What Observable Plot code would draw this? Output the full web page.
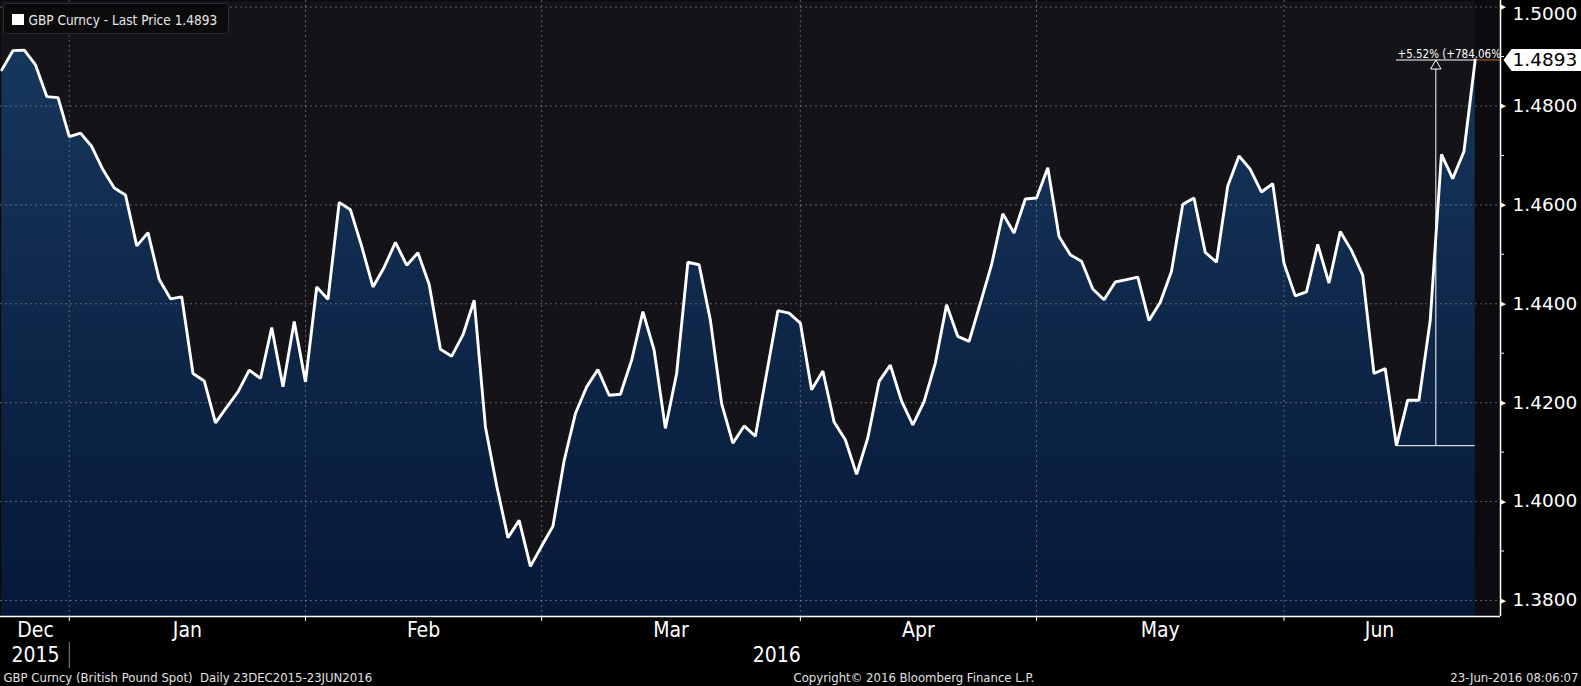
<!DOCTYPE html>
<html>
<head>
<meta charset="utf-8">
<script src="https://cdn.jsdelivr.net/npm/d3@7"></script>
<script src="https://cdn.jsdelivr.net/npm/@observablehq/plot@0.6"></script>
<style>
  html, body { margin: 0; padding: 0; background: #000; }
  #chart svg { display: block; }
</style>
</head>
<body>
<div id="chart"></div>
<script>
// ---------------- data ----------------
const startDate = "2015-12-23";
const endDate = "2016-06-23";
// GBP spot, daily (weekdays) 23 Dec 2015 .. 23 Jun 2016
const prices = [
  1.4873, 1.4912, 1.4913, 1.4883, 1.4819, 1.4817, 1.4738,
  1.4745, 1.4718, 1.4671, 1.4634, 1.4620, 1.4517, 1.4544, 1.4449, 1.4410, 1.4414,
  1.4259, 1.4244, 1.4159, 1.4191, 1.4222, 1.4266, 1.4249, 1.4352, 1.4232, 1.4364, 1.4242,
  1.4434, 1.4409, 1.4605, 1.4590, 1.4516, 1.4434, 1.4474, 1.4524, 1.4478, 1.4503,
  1.4439, 1.4308, 1.4294, 1.4337, 1.4407, 1.4151, 1.4032, 1.3927, 1.3962, 1.3869, 1.3910,
  1.3950, 1.4083, 1.4178, 1.4232, 1.4267, 1.4215, 1.4217, 1.4286, 1.4384, 1.4306,
  1.4148, 1.4259, 1.4484, 1.4479, 1.4367, 1.4198, 1.4118, 1.4153, 1.4132, 1.4259,
  1.4386, 1.4381, 1.4361,
  1.4226, 1.4264, 1.4161, 1.4125, 1.4055, 1.4129, 1.4243, 1.4276, 1.4203, 1.4155,
  1.4202, 1.4280, 1.4398, 1.4334, 1.4324, 1.4401, 1.4479, 1.4582, 1.4543, 1.4612, 1.4614,
  1.4675, 1.4536, 1.4499, 1.4486, 1.4430, 1.4408, 1.4444, 1.4449, 1.4454, 1.4366, 1.4403,
  1.4466, 1.4601, 1.4614, 1.4504, 1.4484, 1.4638, 1.4699, 1.4672, 1.4626, 1.4643, 1.4482,
  1.4416, 1.4424, 1.4520, 1.4442, 1.4546, 1.4508, 1.4458, 1.4259, 1.4269, 1.4113,
  1.4205, 1.4205, 1.4366, 1.4702, 1.4653, 1.4708, 1.4893
];
const yTicks = [1.38, 1.40, 1.42, 1.44, 1.46, 1.48, 1.50];
const yMinorTicks = [1.39, 1.41, 1.43, 1.45, 1.47, 1.49];
const monthNames = ["Jan","Feb","Mar","Apr","May","Jun","Jul","Aug","Sep","Oct","Nov","Dec"];
const legendText = "GBP Curncy - Last Price 1.4893";
const footerLeft = "GBP Curncy (British Pound Spot)\u00a0 Daily 23DEC2015-23JUN2016";
const footerMid = "Copyright\u00a9 2016 Bloomberg Finance L.P.";
const footerRight = "23-Jun-2016 08:06:07";
const changeLabel = "+5.52% (+784.06%";

// ---------------- derived ----------------
const dates = [];
for (let t = Date.parse(startDate + "T00:00:00Z"); t <= Date.parse(endDate + "T00:00:00Z"); t += 864e5) {
  const d = new Date(t);
  const w = d.getUTCDay();
  if (w !== 0 && w !== 6) dates.push(d);
}
const n = prices.length;
const data = prices.map((v, i) => ({ i, date: dates[i], v }));

const monthEnds = d3.range(n - 1).filter(i => dates[i].getUTCMonth() !== dates[i + 1].getUTCMonth());
const mb = [0, ...monthEnds, n - 1];
const monthLabels = mb.slice(0, -1).map((b, k) => ({ x: (b + mb[k + 1]) / 2, text: monthNames[dates[mb[k + 1]].getUTCMonth()] }));
const yearEnds = d3.range(n - 1).filter(i => dates[i].getUTCFullYear() !== dates[i + 1].getUTCFullYear());
const yb = [0, ...yearEnds, n - 1];
const yearLabels = yb.slice(0, -1).map((b, k) => ({ x: (b + yb[k + 1]) / 2 + (k ? 0.4 : 0), text: String(dates[yb[k + 1]].getUTCFullYear()) }));

const W = 1581, H = 686;
const mL = 0, mR = 81, mT = 0, mB = 70;
const xMin = -0.1156, xMax = 133.25;
const yMin = 1.37676, yMax = 1.50133;
const pxX = (W - mL - mR) / (xMax - xMin);
const pxY = (H - mT - mB) / (yMax - yMin);

const lastV = prices[n - 1];
const segStart = monthEnds[monthEnds.length - 1];
const lowIdx = d3.range(segStart, n).reduce((a, b) => prices[b] < prices[a] ? b : a);
const lowV = prices[lowIdx];
const midIdx = (lowIdx + n - 1) / 2;

const fCond = "'DejaVu Sans Condensed', 'DejaVu Sans', sans-serif";
const fReg = "'DejaVu Sans', sans-serif";

const tagSymbol = {
  draw(ctx) {
    ctx.moveTo(3, 0); ctx.lineTo(11, -11); ctx.lineTo(81, -11);
    ctx.lineTo(81, 11); ctx.lineTo(11, 11); ctx.closePath();
  }
};

const gridStyle = { stroke: "#a0a0a0", strokeOpacity: 0.55, strokeDasharray: "2,3", strokeWidth: 1 };

const chart = Plot.plot({
  width: W, height: H,
  marginLeft: mL, marginRight: mR, marginTop: mT, marginBottom: mB,
  style: { background: "#000", color: "white", fontFamily: fCond, overflow: "visible" },
  x: { type: "linear", domain: [xMin, xMax], axis: null },
  y: { type: "linear", domain: [yMin, yMax], axis: null },
  marks: [
    Plot.frame({ fill: "#141318", stroke: null }),
    Plot.rect([0], { x1: n - 1, x2: xMax, y1: yMin, y2: yMax, fill: "#0c0b0f" }),
    Plot.areaY(data, { x: "i", y1: yMin, y2: "v", fill: "url(#gbpArea)" }),
    Plot.ruleY(yTicks, { y: d => d, ...gridStyle }),
    Plot.ruleX(monthEnds, { x: d => d, ...gridStyle }),
    // annotation (low -> last)
    Plot.ruleY([lowV], { y: d => d, x1: lowIdx, x2: n - 1, stroke: "white", strokeWidth: 1 }),
    Plot.ruleY([lastV], { y: d => d, x1: lowIdx, x2: n - 1, stroke: "white", strokeWidth: 1 }),
    Plot.ruleY([lastV], { y: d => d, x1: n - 1, x2: xMax, stroke: "#c8641e", strokeWidth: 1 }),
    Plot.ruleX([midIdx], { x: d => d, y1: lowV, y2: lastV - 9 / pxY, stroke: "white", strokeWidth: 1 }),
    Plot.dot([midIdx], { x: d => d, y: lastV, symbol: "triangle", r: 3.9, dy: 6, fill: "#141318", stroke: "white", strokeWidth: 1 }),
    Plot.text([changeLabel], { x: lowIdx, y: lastV, text: d => d, textAnchor: "start", lineAnchor: "bottom", dx: 1, dy: -2, fill: "white", fontSize: 11.5, fontFamily: fCond }),
    // price line
    Plot.line(data, { x: "i", y: "v", stroke: "white", strokeWidth: 2.9, strokeLinejoin: "miter" }),
    // axes
    Plot.ruleY([yMin], { y: d => d, stroke: "white", strokeWidth: 1.5 }),
    Plot.ruleX([xMax], { x: d => d, stroke: "white", strokeWidth: 1.5 }),
    Plot.ruleX(monthEnds, { x: d => d, y1: yMin, y2: yMin - 5 / pxY, stroke: "white", strokeWidth: 1 }),
    Plot.ruleY(yMinorTicks, { y: d => d, x1: xMax, x2: xMax + 4 / pxX, stroke: "white", strokeWidth: 1 }),
    Plot.text(yTicks, { y: d => d, text: () => "\u25B6", frameAnchor: "right", textAnchor: "start", lineAnchor: "middle", dx: 0, fontSize: 7, fill: "white", fontFamily: fReg }),
    Plot.text(yTicks.filter(t => t < 1.495), { y: d => d, text: d => d.toFixed(4), frameAnchor: "right", textAnchor: "start", lineAnchor: "middle", dx: 12, fontSize: 18.5, fill: "white", fontFamily: fReg }),
    Plot.text(yTicks.filter(t => t >= 1.495), { y: d => d, text: d => d.toFixed(4), frameAnchor: "right", textAnchor: "start", lineAnchor: "middle", dx: 12, dy: 7, fontSize: 18.5, fill: "white", fontFamily: fReg }),
    // last price tag
    Plot.dot([lastV], { y: d => d, frameAnchor: "right", symbol: tagSymbol, fill: "white", stroke: "none" }),
    Plot.text([lastV], { y: d => d, text: d => d.toFixed(4), frameAnchor: "right", textAnchor: "start", lineAnchor: "middle", dx: 12, fontSize: 18.5, fill: "black", fontFamily: fReg }),
    // month / year labels
    Plot.text(monthLabels, { x: "x", text: "text", frameAnchor: "bottom", lineAnchor: "middle", dy: 14, fontSize: 21, fill: "white", fontFamily: fCond }),
    Plot.text(yearLabels, { x: "x", text: "text", frameAnchor: "bottom", lineAnchor: "middle", dy: 39, fontSize: 21, fill: "white", fontFamily: fCond }),
    Plot.ruleX(yearEnds, { x: d => d, y1: yMin - 26 / pxY, y2: yMin - 52 / pxY, stroke: "#8a8a8a", strokeWidth: 1 }),
    // footer
    Plot.text([footerLeft], { text: d => d, frameAnchor: "bottom-left", textAnchor: "start", lineAnchor: "middle", dx: 3, dy: 61, fontSize: 13, fill: "#e0e0e0", fontFamily: fCond }),
    Plot.text([footerMid], { text: d => d, frameAnchor: "bottom-left", textAnchor: "start", lineAnchor: "middle", dx: 793, dy: 61, fontSize: 13, fill: "#e0e0e0", fontFamily: fCond }),
    Plot.text([footerRight], { text: d => d, frameAnchor: "bottom-right", textAnchor: "end", lineAnchor: "middle", dx: 78, dy: 61, fontSize: 13, fill: "#e0e0e0", fontFamily: fCond }),
    // legend text
    Plot.text([legendText], { text: d => d, frameAnchor: "top-left", textAnchor: "start", lineAnchor: "middle", dx: 28, dy: 20, fontSize: 13.5, fill: "#e8e8e8", fontFamily: fCond })
  ]
});

// gradient + legend box decorations
const svg = d3.select(chart);
const defs = svg.insert("defs", ":first-child");
const grad = defs.append("linearGradient").attr("id", "gbpArea")
  .attr("gradientUnits", "userSpaceOnUse").attr("x1", 0).attr("x2", 0).attr("y1", mT).attr("y2", H - mB);
grad.append("stop").attr("offset", 0).attr("stop-color", "#18395f");
grad.append("stop").attr("offset", 1).attr("stop-color", "#061837");

const legendG = svg.append("g");
legendG.append("rect").attr("x", 3.5).attr("y", 3.5).attr("width", 225).attr("height", 30).attr("rx", 3)
  .attr("fill", "#0b0b0e").attr("stroke", "#2c2c30");
legendG.append("rect").attr("x", 12).attr("y", 14).attr("width", 12).attr("height", 11).attr("fill", "white");
// move legend text on top
const texts = svg.selectAll("g[aria-label='text']").nodes();
svg.node().appendChild(texts[texts.length - 1]);

document.getElementById("chart").appendChild(chart);
</script>
</body>
</html>
